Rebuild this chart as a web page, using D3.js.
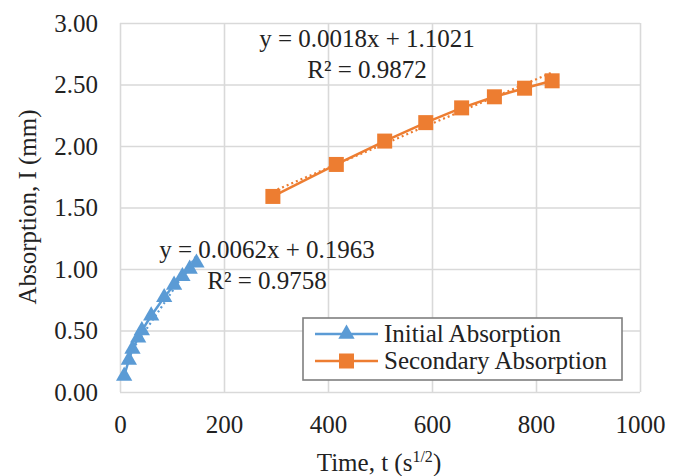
<!DOCTYPE html>
<html>
<head>
<meta charset="utf-8">
<script src="https://cdn.jsdelivr.net/npm/d3@7"></script>
<style>
  html, body { margin: 0; padding: 0; background: #fff; }
  svg { display: block; font-family: "Liberation Serif", "Times New Roman", serif; }
</style>
</head>
<body>
<svg id="chart" width="679" height="476"></svg>
<script>
// ---- data ----
const initialX = [8, 17, 24, 35, 42, 60, 85, 104, 120, 134, 147];
const initialY = [0.13, 0.26, 0.35, 0.44, 0.50, 0.62, 0.77, 0.87, 0.94, 1.00, 1.05];
const secondaryX = [294, 416, 509, 588, 657, 720, 778, 831];
const secondaryY = [1.59, 1.85, 2.04, 2.19, 2.31, 2.40, 2.47, 2.53];
const initialTrend = [0.0062, 0.1963];   // slope, intercept
const secondaryTrend = [0.0018, 1.1021];
const initialLabels = ["y = 0.0062x + 0.1963", "R² = 0.9758"];
const secondaryLabels = ["y = 0.0018x + 1.1021", "R² = 0.9872"];
const seriesNames = ["Initial Absorption", "Secondary Absorption"];
const xTicks = [0, 200, 400, 600, 800, 1000];
const yTicks = [0, 0.5, 1.0, 1.5, 2.0, 2.5, 3.0];

// ---- layout ----
const svg = d3.select("#chart");
const L = 120, R = 640, T = 23, B = 392;
const blue = "#5B9BD5", orange = "#ED7D31";
const x = d3.scaleLinear().domain([0, 1000]).range([L, R]);
const y = d3.scaleLinear().domain([0, 3]).range([B, T]);

// axes with gridlines
const gx = svg.append("g").attr("transform", `translate(0,${B})`)
  .call(d3.axisBottom(x).tickValues(xTicks).tickSize(-(B - T)).tickPadding(23).tickFormat(d3.format("d")));
const gy = svg.append("g").attr("transform", `translate(${L},0)`)
  .call(d3.axisLeft(y).tickValues(yTicks).tickSize(-(R - L)).tickPadding(22).tickFormat(d3.format(".2f")));
[gx, gy].forEach(g => {
  g.select(".domain").remove();
  g.selectAll(".tick line").attr("stroke", "#d9d9d9").attr("stroke-width", 1.6);
  g.selectAll(".tick text").attr("fill", "#222").style("font-size", "25px")
    .style("font-family", "'Liberation Serif', serif");
});

// axis titles
svg.append("text").attr("transform", "translate(36,207) rotate(-90)")
  .attr("text-anchor", "middle").style("font-size", "25px").attr("fill", "#222")
  .text("Absorption, I (mm)");
const xt = svg.append("text").attr("x", 379).attr("y", 471)
  .attr("text-anchor", "middle").style("font-size", "25px").attr("fill", "#222");
xt.append("tspan").text("Time, t (s");
xt.append("tspan").attr("dy", -9).style("font-size", "16px").text("1/2");
xt.append("tspan").attr("dy", 9).text(")");

// trendlines (dotted)
function trend(xs, coef, color) {
  const x0 = d3.min(xs), x1 = d3.max(xs);
  svg.append("line")
    .attr("x1", x(x0)).attr("y1", y(coef[0] * x0 + coef[1]))
    .attr("x2", x(x1)).attr("y2", y(coef[0] * x1 + coef[1]))
    .attr("stroke", color).attr("stroke-width", 2.2).attr("stroke-dasharray", "2,3");
}
trend(initialX, initialTrend, blue);
trend(secondaryX, secondaryTrend, orange);

// series lines
const line = d3.line().x(d => x(d[0])).y(d => y(d[1]));
const initData = initialX.map((v, i) => [v, initialY[i]]);
const secData = secondaryX.map((v, i) => [v, secondaryY[i]]);
svg.append("path").datum(initData).attr("d", line).attr("fill", "none")
  .attr("stroke", blue).attr("stroke-width", 2.5);
svg.append("path").datum(secData).attr("d", line).attr("fill", "none")
  .attr("stroke", orange).attr("stroke-width", 2.5);

// markers
const tri = d3.symbol().type(d3.symbolTriangle).size(115);
svg.selectAll(".tri").data(initData).join("path")
  .attr("transform", d => `translate(${x(d[0])},${y(d[1])})`)
  .attr("d", tri).attr("fill", blue);
svg.selectAll(".sq").data(secData).join("rect")
  .attr("x", d => x(d[0]) - 7.5).attr("y", d => y(d[1]) - 7.5)
  .attr("width", 15).attr("height", 15).attr("fill", orange);

// trendline labels
function eqLabel(lines, cx, by) {
  lines.forEach((t, i) => {
    svg.append("text").attr("x", cx).attr("y", by + i * 31).attr("text-anchor", "middle")
      .style("font-size", "25px").attr("fill", "#222").text(t);
  });
}
eqLabel(secondaryLabels, 367, 47);
eqLabel(initialLabels, 267, 258);

// legend
const lg = svg.append("g");
lg.append("rect").attr("x", 303).attr("y", 318).attr("width", 319).attr("height", 62)
  .attr("fill", "#fff").attr("stroke", "#7f7f7f").attr("stroke-width", 1.6);
const rows = [
  { name: seriesNames[0], color: blue, y: 334, mark: "tri" },
  { name: seriesNames[1], color: orange, y: 361, mark: "sq" }
];
rows.forEach(r => {
  lg.append("line").attr("x1", 315).attr("x2", 378).attr("y1", r.y).attr("y2", r.y)
    .attr("stroke", r.color).attr("stroke-width", 2.5);
  if (r.mark === "tri") {
    lg.append("path").attr("transform", `translate(346.5,${r.y})`).attr("d", tri).attr("fill", r.color);
  } else {
    lg.append("rect").attr("x", 339).attr("y", r.y - 7.5).attr("width", 15).attr("height", 15).attr("fill", r.color);
  }
  lg.append("text").attr("x", 384).attr("y", r.y + 8).style("font-size", "25px")
    .attr("fill", "#222").text(r.name);
});
</script>
</body>
</html>
